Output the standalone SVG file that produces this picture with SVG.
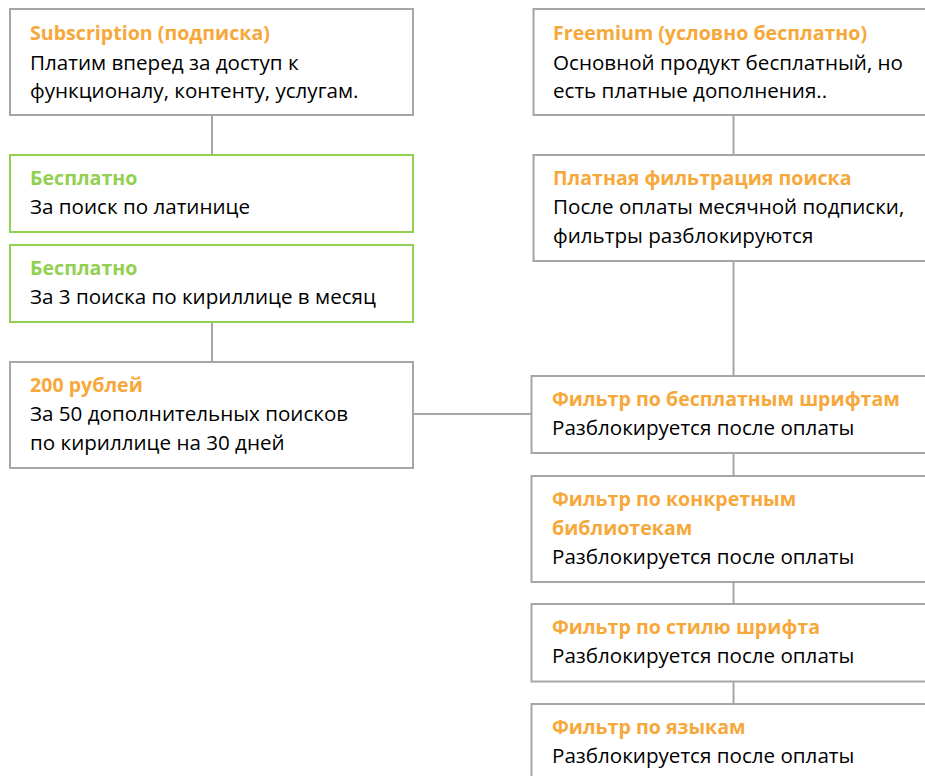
<svg xmlns="http://www.w3.org/2000/svg" width="925" height="776" viewBox="0 0 925 776">
<style>
.box{fill:#fff;stroke:#a6a6a6;stroke-width:2}
.gbox{fill:#fff;stroke:#92d050;stroke-width:2}
.ln{stroke:#a6a6a6;stroke-width:2;fill:none}
text{font-family:"Open Sans","Noto Sans","Liberation Sans",sans-serif;font-size:20.6px;fill:#000}
.t{font-weight:bold;font-size:19.6px;fill:#f7a83a}
.g{font-weight:bold;font-size:19.6px;fill:#92d050}
</style>
<rect width="925" height="776" fill="#fff"/>
<g id="connectors">
<line class="ln" x1="212" y1="115" x2="212" y2="155"/>
<line class="ln" x1="212" y1="322" x2="212" y2="362"/>
<line class="ln" x1="413" y1="414" x2="531.5" y2="414"/>
<line class="ln" x1="733.5" y1="115" x2="733.5" y2="155"/>
<line class="ln" x1="733.5" y1="261" x2="733.5" y2="376"/>
<line class="ln" x1="733.5" y1="453" x2="733.5" y2="476"/>
<line class="ln" x1="733.5" y1="582" x2="733.5" y2="604"/>
<line class="ln" x1="733.5" y1="681.5" x2="733.5" y2="704"/>
</g>
<g id="subscription">
<rect class="box" x="10" y="9" width="403" height="106"/>
<text class="t" x="30" y="40">Subscription (подписка)</text>
<text x="30" y="70">Платим вперед за доступ к</text>
<text x="30" y="98">функционалу, контенту, услугам.</text>
</g>
<g id="free-latin">
<rect class="gbox" x="10" y="155" width="403" height="77"/>
<text class="g" x="30" y="185">Бесплатно</text>
<text x="30" y="214">За поиск по латинице</text>
</g>
<g id="free-cyr">
<rect class="gbox" x="10" y="245" width="403" height="77"/>
<text class="g" x="30" y="275">Бесплатно</text>
<text x="30" y="304">За 3 поиска по кириллице в месяц</text>
</g>
<g id="rub200">
<rect class="box" x="10" y="362" width="403" height="106"/>
<text class="t" x="30" y="392">200 рублей</text>
<text x="30" y="421">За 50 дополнительных поисков</text>
<text x="30" y="450">по кириллице на 30 дней</text>
</g>
<g id="freemium">
<rect class="box" x="533.5" y="9" width="400" height="106"/>
<text class="t" x="553" y="40">Freemium (условно бесплатно)</text>
<text x="553" y="70">Основной продукт бесплатный, но</text>
<text x="553" y="98">есть платные дополнения..</text>
</g>
<g id="paid-filter">
<rect class="box" x="533.5" y="155" width="400" height="106"/>
<text class="t" x="553" y="185">Платная фильтрация поиска</text>
<text x="553" y="214">После оплаты месячной подписки,</text>
<text x="553" y="243">фильтры разблокируются</text>
</g>
<g id="filter-free-fonts">
<rect class="box" x="531.5" y="376" width="400" height="77"/>
<text class="t" x="552" y="406">Фильтр по бесплатным шрифтам</text>
<text x="552" y="435">Разблокируется после оплаты</text>
</g>
<g id="filter-libs">
<rect class="box" x="531.5" y="476" width="400" height="106"/>
<text class="t" x="552" y="506">Фильтр по конкретным</text>
<text class="t" x="552" y="535">библиотекам</text>
<text x="552" y="564">Разблокируется после оплаты</text>
</g>
<g id="filter-style">
<rect class="box" x="531.5" y="604" width="400" height="77.5"/>
<text class="t" x="552" y="634">Фильтр по стилю шрифта</text>
<text x="552" y="663">Разблокируется после оплаты</text>
</g>
<g id="filter-lang">
<rect class="box" x="531.5" y="704" width="400" height="100"/>
<text class="t" x="552" y="734">Фильтр по языкам</text>
<text x="552" y="763">Разблокируется после оплаты</text>
</g>
</svg>
